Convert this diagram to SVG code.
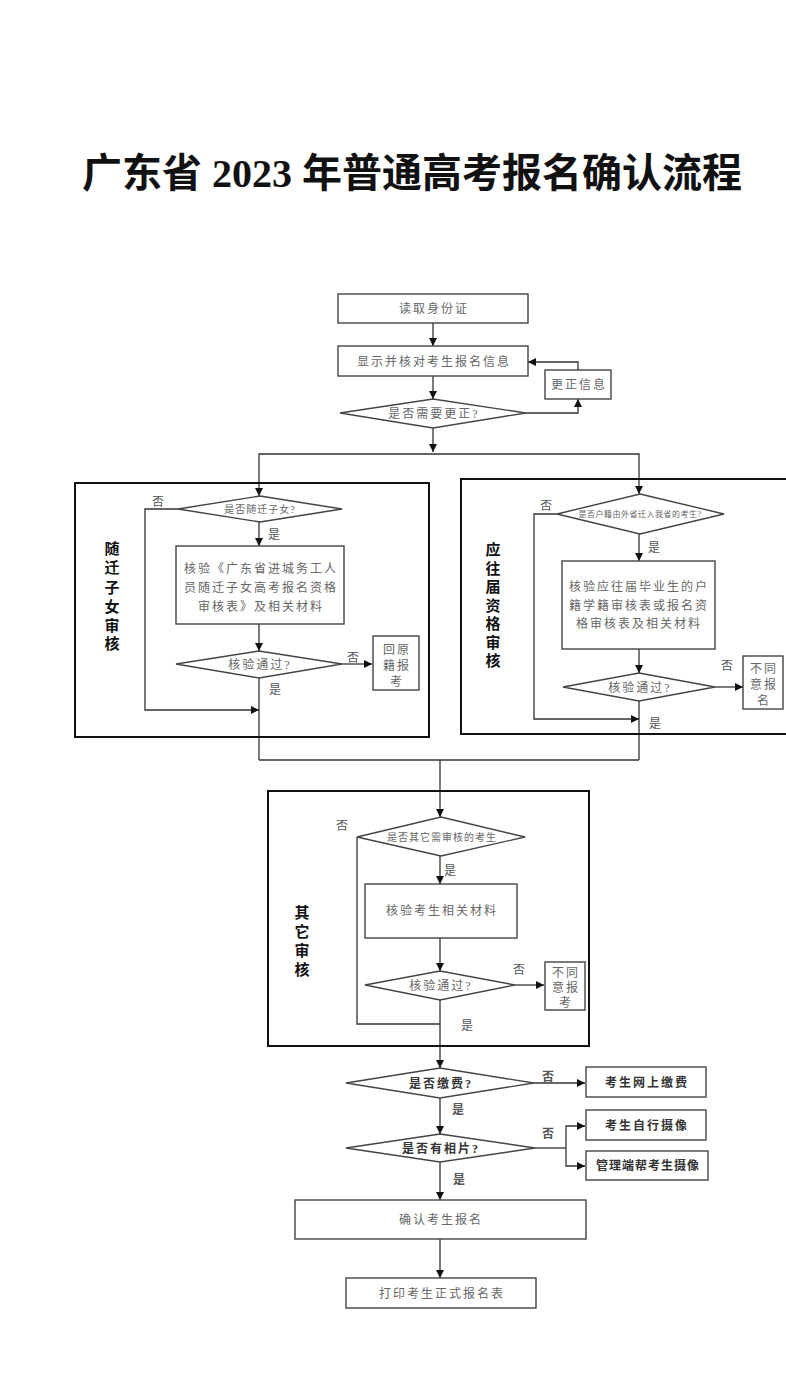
<svg xmlns="http://www.w3.org/2000/svg" width="786" height="1387" viewBox="0 0 786 1387">
<defs>
<marker id="ah" viewBox="0 0 10 10" refX="10" refY="5" markerWidth="8" markerHeight="8" markerUnits="userSpaceOnUse" orient="auto">
<path d="M0,0 L10,5 L0,10 z" fill="#111"/>
</marker>
</defs>
<style>
.n{fill:#fff;stroke:#444;stroke-width:1.4}
.g{fill:none;stroke:#111;stroke-width:2}
.c{fill:none;stroke:#333;stroke-width:1.3}
.a{marker-end:url(#ah)}
.t{font-family:"Liberation Serif","Noto Sans CJK SC",serif;fill:#666;font-size:12px;text-anchor:middle;letter-spacing:2px}
.b{fill:#333;font-weight:bold}
.s{font-family:"Liberation Serif","Noto Sans CJK SC",serif;fill:#111;font-size:15px;font-weight:bold;text-anchor:middle}
.l{font-family:"Liberation Serif","Noto Sans CJK SC",serif;fill:#555;font-size:12px;text-anchor:middle}
</style>
<rect width="786" height="1387" fill="#fff"/>
<text x="412" y="187" font-family="Liberation Serif,Noto Sans CJK SC,serif" font-size="40" font-weight="bold" fill="#111" text-anchor="middle">广东省 2023 年普通高考报名确认流程</text>

<g id="connectors">
<line class="c a" x1="433" y1="323" x2="433" y2="346"/>
<line class="c a" x1="433" y1="376" x2="433" y2="399"/>
<polyline class="c a" points="526,413 578,413 578,399"/>
<polyline class="c a" points="578,370 578,362 528,362"/>
<line class="c a" x1="433" y1="428" x2="433" y2="452"/>
<polyline class="c" points="259,462 259,454 639,454 639,462"/>
<line class="c a" x1="259" y1="462" x2="259" y2="496"/>
<line class="c a" x1="639" y1="462" x2="639" y2="494"/>
<line class="c a" x1="259" y1="522" x2="259" y2="546"/>
<line class="c a" x1="259" y1="624" x2="259" y2="651"/>
<line class="c a" x1="342" y1="664" x2="372" y2="664"/>
<polyline class="c a" points="178,509 145,509 145,710 259,710"/>
<line class="c" x1="259" y1="678" x2="259" y2="760"/>
<line class="c a" x1="639" y1="534" x2="639" y2="561"/>
<line class="c a" x1="639" y1="649" x2="639" y2="673"/>
<line class="c a" x1="715" y1="687" x2="743" y2="687"/>
<polyline class="c a" points="557,514 534,514 534,719 639,719"/>
<line class="c" x1="639" y1="701" x2="639" y2="760"/>
<line class="c" x1="259" y1="760" x2="639" y2="760"/>
<line class="c a" x1="440" y1="760" x2="440" y2="817"/>
<line class="c a" x1="440" y1="856" x2="440" y2="884"/>
<line class="c a" x1="440" y1="938" x2="440" y2="971"/>
<line class="c a" x1="515" y1="985" x2="544" y2="985"/>
<polyline class="c" points="357,837 357,1024 440,1024"/>
<line class="c a" x1="440" y1="1000" x2="440" y2="1068"/>
<line class="c a" x1="534" y1="1083" x2="585" y2="1083"/>
<line class="c a" x1="440" y1="1098" x2="440" y2="1134"/>
<line class="c" x1="535" y1="1148" x2="566" y2="1148"/>
<polyline class="c a" points="566,1148 566,1126 585,1126"/>
<polyline class="c a" points="566,1148 566,1166 585,1166"/>
<line class="c a" x1="440" y1="1162" x2="440" y2="1200"/>
<line class="c a" x1="440" y1="1239" x2="440" y2="1278"/>
<text class="l" x="158" y="506">否</text>
<text class="l" x="274" y="539">是</text>
<text class="l" x="353" y="662">否</text>
<text class="l" x="275" y="694">是</text>
<text class="l" x="546" y="510">否</text>
<text class="l" x="654" y="552">是</text>
<text class="l" x="727" y="670">否</text>
<text class="l" x="655" y="728">是</text>
<text class="l" x="342" y="830">否</text>
<text class="l" x="450" y="875">是</text>
<text class="l" x="519" y="974">否</text>
<text class="l" x="467" y="1030">是</text>
<text class="l b" x="548" y="1081">否</text>
<text class="l b" x="458" y="1114">是</text>
<text class="l b" x="548" y="1138">否</text>
<text class="l b" x="459" y="1184">是</text>
</g>

<g id="read-id"><rect class="n" x="338" y="294" width="190" height="29"/><text class="t" x="434" y="313">读取身份证</text></g>
<g id="show-info"><rect class="n" x="338" y="346" width="190" height="30"/><text class="t" x="434" y="366">显示并核对考生报名信息</text></g>
<g id="fix-info"><rect class="n" x="545" y="370" width="66" height="29"/><text class="t" x="579" y="389">更正信息</text></g>
<g id="need-fix"><polygon class="n" points="433,399 526,413 433,428 340,413"/><text class="t" x="434" y="418">是否需要更正?</text></g>

<g id="sec-migrant">
<rect class="g" x="75" y="483" width="354" height="254"/>
<text class="s" x="112" y="554">随</text><text class="s" x="112" y="573">迁</text><text class="s" x="112" y="593">子</text><text class="s" x="112" y="612">女</text><text class="s" x="112" y="631">审</text><text class="s" x="112" y="649">核</text>
</g>
<g id="is-migrant"><polygon class="n" points="260,496 342,509 260,522 178,509"/><text class="t" x="260" y="513" style="font-size:10px;letter-spacing:1px">是否随迁子女?</text></g>
<g id="check-migrant"><rect class="n" x="176" y="546" width="168" height="78"/>
<text class="t" x="261" y="573">核验《广东省进城务工人</text><text class="t" x="261" y="592">员随迁子女高考报名资格</text><text class="t" x="261" y="611">审核表》及相关材料</text></g>
<g id="pass-1"><polygon class="n" points="259,651 342,664 259,678 176,664"/><text class="t" x="260" y="669">核验通过?</text></g>
<g id="return-home"><rect class="n" x="373" y="636" width="46" height="54"/><text class="t" x="397" y="654">回原</text><text class="t" x="397" y="670">籍报</text><text class="t" x="397" y="686">考</text></g>

<g id="sec-status">
<rect class="g" x="461" y="479" width="330" height="255"/>
<text class="s" x="493" y="555">应</text><text class="s" x="493" y="574">往</text><text class="s" x="493" y="592">届</text><text class="s" x="493" y="611">资</text><text class="s" x="493" y="629">格</text><text class="s" x="493" y="648">审</text><text class="s" x="493" y="666">核</text>
</g>
<g id="is-transfer"><polygon class="n" points="640,494 724,514 640,534 557,514"/><text class="t" x="640" y="517" style="font-size:8px;letter-spacing:0.5px">是否户籍由外省迁入我省的考生?</text></g>
<g id="check-status"><rect class="n" x="562" y="561" width="153" height="88"/>
<text class="t" x="639" y="591">核验应往届毕业生的户</text><text class="t" x="639" y="610">籍学籍审核表或报名资</text><text class="t" x="639" y="628">格审核表及相关材料</text></g>
<g id="pass-2"><polygon class="n" points="639,673 715,687 639,701 563,687"/><text class="t" x="640" y="692">核验通过?</text></g>
<g id="reject-1"><rect class="n" x="743" y="656" width="40" height="53"/><text class="t" x="764" y="673">不同</text><text class="t" x="764" y="689">意报</text><text class="t" x="764" y="705">名</text></g>

<g id="sec-other">
<rect class="g" x="268" y="791" width="321" height="255"/>
<text class="s" x="302" y="918">其</text><text class="s" x="302" y="937">它</text><text class="s" x="302" y="956">审</text><text class="s" x="302" y="975">核</text>
</g>
<g id="is-other"><polygon class="n" points="441,817 525,837 441,856 357,837"/><text class="t" x="442" y="841" style="font-size:10px;letter-spacing:1px">是否其它需审核的考生</text></g>
<g id="check-other"><rect class="n" x="365" y="884" width="152" height="54"/><text class="t" x="442" y="915">核验考生相关材料</text></g>
<g id="pass-3"><polygon class="n" points="440,971 515,985 440,1000 365,985"/><text class="t" x="441" y="990">核验通过?</text></g>
<g id="reject-2"><rect class="n" x="545" y="962" width="40" height="48"/><text class="t" x="566" y="977">不同</text><text class="t" x="566" y="992">意报</text><text class="t" x="566" y="1007">考</text></g>

<g id="is-paid"><polygon class="n" points="440,1068 534,1083 440,1098 346,1083"/><text class="t b" x="441" y="1088">是否缴费?</text></g>
<g id="pay-online"><rect class="n" x="586" y="1067" width="120" height="30"/><text class="t b" x="647" y="1087">考生网上缴费</text></g>
<g id="has-photo"><polygon class="n" points="440,1134 535,1148 440,1162 346,1148"/><text class="t b" x="441" y="1153">是否有相片?</text></g>
<g id="self-photo"><rect class="n" x="586" y="1110" width="120" height="30"/><text class="t b" x="647" y="1130">考生自行摄像</text></g>
<g id="admin-photo"><rect class="n" x="586" y="1151" width="122" height="29"/><text class="t b" x="648" y="1170" style="letter-spacing:1px">管理端帮考生摄像</text></g>
<g id="confirm"><rect class="n" x="295" y="1200" width="291" height="39"/><text class="t" x="441" y="1224">确认考生报名</text></g>
<g id="print"><rect class="n" x="346" y="1278" width="190" height="30"/><text class="t" x="442" y="1298">打印考生正式报名表</text></g>
</svg>
